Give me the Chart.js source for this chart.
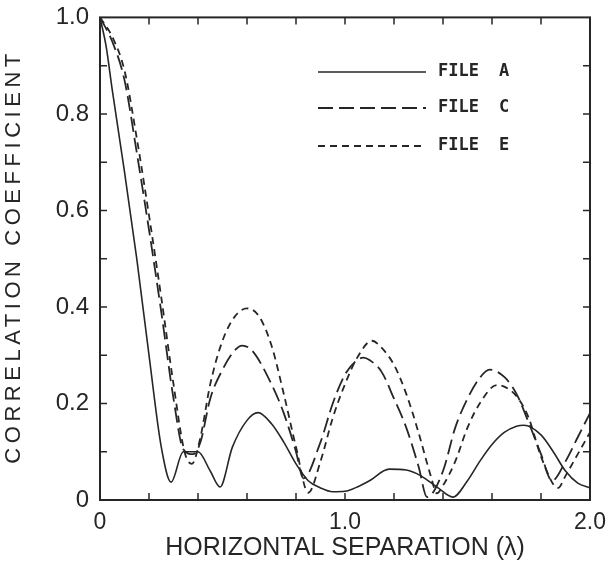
<!DOCTYPE html>
<html>
<head>
<meta charset="utf-8">
<script src="https://cdn.jsdelivr.net/npm/chart.js@4.4.1/dist/chart.umd.min.js"></script>
<style>
  html, body { margin: 0; padding: 0; background: #fff; }
  #wrap { width: 613px; height: 564px; }
</style>
</head>
<body>
<div id="wrap"><canvas id="chart"></canvas></div>
<script>
// Correlation coefficient vs horizontal separation (in wavelengths)

const xA = [0, 0.025, 0.05, 0.1, 0.15, 0.2, 0.25, 0.29, 0.34, 0.40, 0.45, 0.49, 0.54, 0.6, 0.645, 0.7, 0.75, 0.8, 0.85, 0.9, 0.95, 1.0, 1.05, 1.1, 1.18, 1.25, 1.31, 1.38, 1.44, 1.5, 1.55, 1.6, 1.65, 1.7, 1.73, 1.8, 1.85, 1.9, 1.95, 2.0];
const yA = [1.0, 0.94, 0.85, 0.68, 0.50, 0.30, 0.11, 0.037, 0.10, 0.10, 0.06, 0.027, 0.109, 0.165, 0.181, 0.158, 0.12, 0.075, 0.04, 0.025, 0.017, 0.018, 0.027, 0.04, 0.064, 0.062, 0.05, 0.025, 0.006, 0.04, 0.08, 0.115, 0.14, 0.153, 0.155, 0.135, 0.10, 0.06, 0.035, 0.025];

const xC = [0, 0.05, 0.1, 0.15, 0.2, 0.25, 0.3, 0.34, 0.38, 0.41, 0.45, 0.5, 0.55, 0.58, 0.62, 0.7, 0.75, 0.8, 0.83, 0.9, 0.95, 1.0, 1.05, 1.075, 1.1, 1.15, 1.2, 1.25, 1.3, 1.335, 1.4, 1.45, 1.5, 1.55, 1.59, 1.65, 1.7, 1.75, 1.8, 1.845, 1.9, 1.95, 2.0];
const yC = [1.0, 0.95, 0.87, 0.72, 0.56, 0.39, 0.21, 0.105, 0.095, 0.12, 0.21, 0.27, 0.31, 0.32, 0.31, 0.24, 0.18, 0.10, 0.045, 0.12, 0.20, 0.26, 0.29, 0.295, 0.29, 0.265, 0.21, 0.15, 0.07, 0.006, 0.06, 0.15, 0.21, 0.253, 0.27, 0.255, 0.22, 0.16, 0.095, 0.04, 0.08, 0.13, 0.18];

const xE = [0, 0.05, 0.1, 0.15, 0.2, 0.25, 0.3, 0.345, 0.375, 0.41, 0.45, 0.5, 0.55, 0.6, 0.65, 0.7, 0.75, 0.8, 0.85, 0.9, 0.95, 1.0, 1.05, 1.11, 1.15, 1.2, 1.25, 1.3, 1.35, 1.375, 1.4, 1.45, 1.5, 1.55, 1.62, 1.65, 1.7, 1.75, 1.8, 1.87, 1.9, 1.95, 2.0];
const yE = [1.0, 0.96, 0.89, 0.75, 0.59, 0.42, 0.24, 0.10, 0.075, 0.13, 0.24, 0.33, 0.38, 0.397, 0.38, 0.32, 0.22, 0.11, 0.015, 0.08, 0.17, 0.24, 0.295, 0.33, 0.315, 0.28, 0.22, 0.14, 0.05, 0.014, 0.03, 0.08, 0.15, 0.20, 0.238, 0.235, 0.215, 0.17, 0.09, 0.025, 0.05, 0.095, 0.14];

const seriesNames = ["FILE  A", "FILE  C", "FILE  E"];
const xLabelled = [0, 1, 2];

const ink = "#262626";
const font = "'Liberation Sans', Arial, Helvetica, sans-serif";

function toPoints(xs, ys) {
  return xs.map((x, i) => ({ x, y: ys[i] }));
}

const framePlugin = {
  id: "frame",
  afterDraw(chart) {
    const { ctx, chartArea: a, scales } = chart;
    const xs = scales.x;
    const ys = scales.y;
    ctx.save();
    ctx.strokeStyle = ink;
    ctx.lineWidth = 2;
    ctx.strokeRect(a.left, a.top, a.right - a.left, a.bottom - a.top);

    // inward tick marks on all four sides
    ctx.lineWidth = 1.5;
    const len = 7;
    ctx.beginPath();
    xs.ticks.forEach((t) => {
      const px = xs.getPixelForValue(t.value);
      if (px <= a.left + 1 || px >= a.right - 1) return;
      ctx.moveTo(px, a.bottom);
      ctx.lineTo(px, a.bottom - len);
      ctx.moveTo(px, a.top);
      ctx.lineTo(px, a.top + len);
    });
    ys.ticks.forEach((t) => {
      const py = ys.getPixelForValue(t.value);
      if (py <= a.top + 1 || py >= a.bottom - 1) return;
      ctx.moveTo(a.left, py);
      ctx.lineTo(a.left + len, py);
      ctx.moveTo(a.right, py);
      ctx.lineTo(a.right - len, py);
    });
    ctx.stroke();

    // y axis title, spread out like the original lettering
    const title = "CORRELATION COEFFICIENT";
    ctx.fillStyle = ink;
    ctx.font = `22px ${font}`;
    const plain = ctx.measureText(title).width;
    const target = 410;
    const spacing = Math.max(0, (target - plain) / (title.length - 1));
    ctx.letterSpacing = spacing + "px";
    ctx.translate(14, (a.top + a.bottom) / 2);
    ctx.rotate(-Math.PI / 2);
    ctx.textAlign = "center";
    ctx.textBaseline = "middle";
    ctx.fillText(title, spacing / 2, 0);
    ctx.restore();

    // legend inside the plot
    ctx.save();
    ctx.strokeStyle = ink;
    ctx.fillStyle = ink;
    ctx.font = `bold 17px 'DejaVu Sans Mono', monospace`;
    ctx.textBaseline = "middle";
    const rows = [72, 108, 146];
    chart.data.datasets.forEach((ds, i) => {
      const y = rows[i];
      ctx.lineWidth = ds.borderWidth;
      ctx.setLineDash(ds.borderDash || []);
      ctx.beginPath();
      ctx.moveTo(a.left + 218, y);
      ctx.lineTo(a.left + 326, y);
      ctx.stroke();
      ctx.setLineDash([]);
      const [word, letter] = seriesNames[i].split(/\s+/);
      ctx.fillText(word, a.left + 338, y);
      ctx.fillText(letter, a.left + 399, y);
    });
    ctx.restore();
  },
};

new Chart(document.getElementById("chart"), {
  type: "line",
  data: {
    datasets: [
      {
        label: seriesNames[0],
        data: toPoints(xA, yA),
        borderColor: ink,
        borderWidth: 1.6,
      },
      {
        label: seriesNames[1],
        data: toPoints(xC, yC),
        borderColor: ink,
        borderWidth: 1.8,
        borderDash: [15, 6],
      },
      {
        label: seriesNames[2],
        data: toPoints(xE, yE),
        borderColor: ink,
        borderWidth: 1.8,
        borderDash: [7, 5],
      },
    ],
  },
  options: {
    responsive: true,
    maintainAspectRatio: false,
    animation: false,
    devicePixelRatio: 1,
    layout: { padding: { top: 2, right: 23, left: 0, bottom: 0 } },
    elements: {
      point: { radius: 0 },
      line: { cubicInterpolationMode: "monotone", fill: false },
    },
    plugins: {
      legend: { display: false },
      tooltip: { enabled: false },
    },
    scales: {
      x: {
        type: "linear",
        min: 0,
        max: 2,
        afterFit: (s) => { s.height = 64; },
        grid: { display: false },
        border: { display: false },
        ticks: {
          stepSize: 0.2,
          autoSkip: false,
          maxRotation: 0,
          padding: 1,
          color: ink,
          font: { family: font, size: 23 },
          callback: (v) => {
            const n = Math.round(v * 10) / 10;
            if (!xLabelled.includes(n)) return "";
            return n === 0 ? "0" : n.toFixed(1);
          },
        },
        title: {
          display: true,
          text: "HORIZONTAL SEPARATION (\u03bb)",
          color: ink,
          font: { family: font, size: 25 },
          padding: { top: 0, bottom: 1 },
        },
      },
      y: {
        min: 0,
        max: 1,
        afterFit: (s) => { s.width = 100; },
        grid: { display: false },
        border: { display: false },
        ticks: {
          stepSize: 0.1,
          autoSkip: false,
          padding: 3,
          color: ink,
          font: { family: font, size: 24 },
          callback: (v) => {
            const n = Math.round(v * 10);
            if (n % 2 !== 0) return "";
            return n === 0 ? "0" : (n / 10).toFixed(1);
          },
        },
      },
    },
  },
  plugins: [framePlugin],
});
</script>
</body>
</html>
